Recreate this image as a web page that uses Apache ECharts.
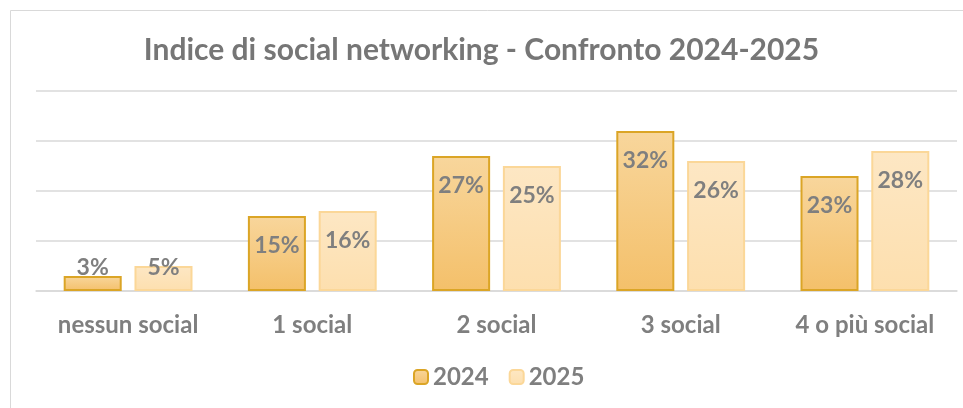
<!DOCTYPE html>
<html><head><meta charset="utf-8">
<script src="https://cdn.jsdelivr.net/npm/echarts@6/dist/echarts.min.js"></script>
<style>html,body{margin:0;padding:0;background:#fff}#c{width:963px;height:408px}</style>
</head><body><div id="c"></div>
<script>
const categories = ['nessun social', '1 social', '2 social', '3 social', '4 o più social'];
const seriesNames = ['2024', '2025'];
const values2024 = [3, 15, 27, 32, 23];
const values2025 = [5, 16, 25, 26, 28];
const titleText = 'Indice di social networking - Confronto 2024-2025';

const FONT = 'Lato';
const GRAY = '#7f7f7f';
function grad(a, b) {
  return new echarts.graphic.LinearGradient(0, 0, 0, 1, [{offset: 0, color: a}, {offset: 1, color: b}]);
}
function toData(arr) {
  return arr.map(v => v < 8 ? {value: v, label: {position: 'insideBottom', distance: 12}} : v);
}
const labelCfg = {
  show: true, position: 'insideTop', distance: 18,
  formatter: '{c}%', color: GRAY, fontFamily: FONT, fontWeight: 'bold', fontSize: 23
};
const chart = echarts.init(document.getElementById('c'), null, {renderer: 'canvas'});
chart.setOption({
  animation: false,
  backgroundColor: '#fff',
  graphic: [{type: 'rect', shape: {x: 10.5, y: 10.5, width: 970, height: 420}, style: {fill: 'none', stroke: '#d9d9d9', lineWidth: 1}, silent: true, z: -1}],
  title: {
    text: titleText, left: 'center', top: 30,
    textStyle: {color: '#767676', fontFamily: FONT, fontWeight: 'bold', fontSize: 30}
  },
  legend: {
    data: seriesNames, bottom: 14, left: 408, itemWidth: 14, itemHeight: 14, itemGap: 20,
    textStyle: {color: GRAY, fontFamily: FONT, fontWeight: 'bold', fontSize: 24, padding: [0, 0, 0, 0]}
  },
  grid: {left: 36, right: 6, top: 91, bottom: 117},
  xAxis: {
    type: 'category', data: categories,
    axisLine: {lineStyle: {color: '#d9d9d9', width: 1.5}},
    axisTick: {show: false},
    axisLabel: {color: GRAY, fontFamily: FONT, fontWeight: 'bold', fontSize: 24, margin: 22}
  },
  yAxis: {
    type: 'value', min: 0, max: 40, interval: 10,
    axisLabel: {show: false}, axisLine: {show: false}, axisTick: {show: false},
    splitLine: {lineStyle: {color: '#d9d9d9', width: 1.5}}
  },
  series: [
    {
      name: seriesNames[0], type: 'bar', data: toData(values2024), barWidth: '31.5%', barGap: '22%',
      itemStyle: {color: grad('#f8d69c', '#f4c06a'), borderColor: '#dba526', borderWidth: 2},
      label: labelCfg
    },
    {
      name: seriesNames[1], type: 'bar', data: toData(values2025), barWidth: '31.5%',
      itemStyle: {color: grad('#fde7c4', '#fddfae'), borderColor: '#fbd798', borderWidth: 2},
      label: labelCfg
    }
  ]
});
</script></body></html>
